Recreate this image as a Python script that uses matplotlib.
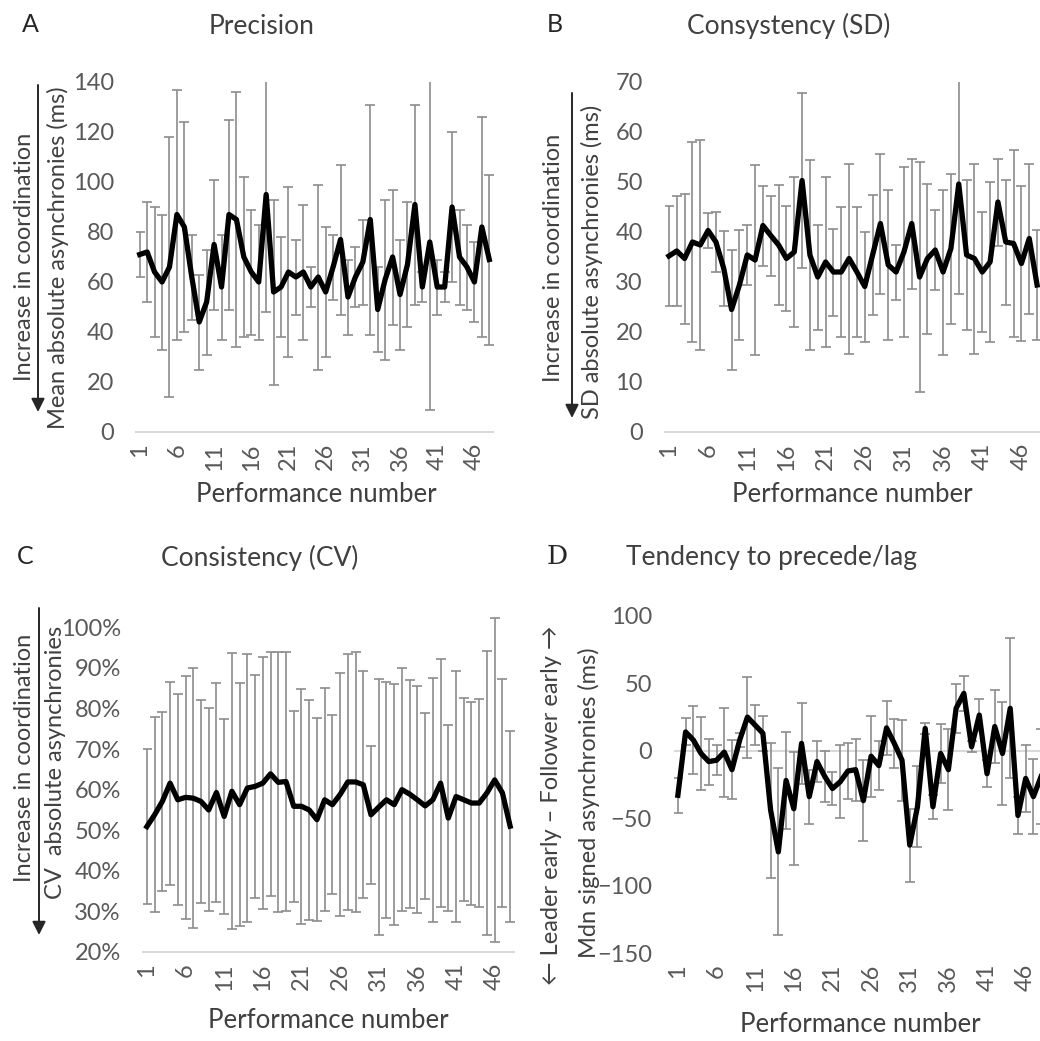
import numpy as np
import matplotlib
matplotlib.use('Agg')
import matplotlib.pyplot as plt
from matplotlib.ticker import PercentFormatter

plt.rcParams['font.family'] = ['Lato', 'DejaVu Sans']

W, H = 1040, 1041

performance = np.arange(1, 49)
tick_pos = [1, 6, 11, 16, 21, 26, 31, 36, 41, 46]

# A: mean absolute asynchronies (ms)
precision_mean = [71, 72, 64, 60, 66, 87, 82, 62, 44, 52, 75, 58, 87, 85, 70, 64,
                  60, 95, 56, 58, 64, 62, 64, 58, 62, 56, 66, 77, 54, 62, 68, 85,
                  49, 61, 70, 55, 67, 91, 58, 76, 58, 58, 90, 70, 66, 60, 82, 69]
precision_sd = [9, 20, 26, 27, 52, 50, 42, 17, 19, 21, 26, 21, 38, 51, 32, 25,
                23, 47, 37, 20, 34, 15, 27, 8, 37, 26, 13, 30, 15, 12, 17, 46,
                17, 32, 27, 22, 25, 40, 6, 67, 11, 6, 30, 19, 17, 16, 44, 34]

# B: SD of absolute asynchronies (ms)
sd_mean = [35.2, 36.2, 34.7, 38, 37.4, 40.3, 38, 32.7, 24.5, 29.4, 35.4, 34.4,
           41.3, 39.3, 37.4, 34.7, 36, 50.3, 35.4, 31, 34, 32, 32, 34.7,
           32, 29.1, 35.4, 41.7, 33.4, 32, 36, 41.7, 31, 34.7, 36.4, 32,
           36.7, 49.6, 35.4, 34.7, 32, 34, 46, 38, 37.7, 33.7, 38.7, 29.4]
sd_sd = [10, 11, 13, 20, 21, 3.5, 6, 7.5, 12, 11, 6, 19,
         8, 8, 12, 10.5, 15, 17.5, 19, 10.5, 17, 8.7, 13, 19,
         13, 11, 12, 14, 15, 5.5, 17, 13, 23, 15, 8, 16.5,
         15, 22, 15, 19, 12, 16, 8.7, 12.5, 18.7, 15.5, 15, 11]

# C: CV of absolute asynchronies
cv_mean = [0.509, 0.538, 0.571, 0.616, 0.575, 0.581, 0.579, 0.571, 0.550, 0.593,
           0.534, 0.596, 0.563, 0.604, 0.608, 0.616, 0.639, 0.618, 0.620, 0.559,
           0.559, 0.550, 0.526, 0.575, 0.563, 0.588, 0.619, 0.619, 0.612, 0.538,
           0.557, 0.575, 0.563, 0.600, 0.589, 0.575, 0.560, 0.575, 0.616, 0.530,
           0.583, 0.575, 0.567, 0.567, 0.592, 0.624, 0.592, 0.510]
cv_sd = [0.19, 0.24, 0.22, 0.25, 0.26, 0.30, 0.32, 0.25, 0.25, 0.27,
         0.24, 0.34, 0.30, 0.33, 0.275, 0.31, 0.30, 0.32, 0.32, 0.235,
         0.29, 0.27, 0.25, 0.275, 0.22, 0.30, 0.315, 0.32, 0.28, 0.17,
         0.315, 0.29, 0.297, 0.30, 0.28, 0.28, 0.23, 0.30, 0.305, 0.23,
         0.31, 0.25, 0.25, 0.257, 0.35, 0.40, 0.28, 0.235]

# D: median signed asynchronies (ms)
signed_mean = [-33, 14, 8, -2, -8, -7, -1, -14, 8, 25, 19, 13, -44, -75, -22, -43,
               5.5, -34, -8, -19, -28, -23, -15, -14, -37, -4, -11, 17, 5.5, -7, -70, -41.5,
               16.6, -41.5, -2, -14, 31.5, 42.6, 3, 26.5, -17, 18, -2, 31.5, -48, -20.5, -34, -19]
signed_sd = [13, 10, 25, 27, 17, 11, 33, 22, 5, 30, 15, 13, 50, 62, 36, 42,
             30, 20, 15, 19, 12, 27, 21, 23, 30, 30, 18, 20, 18, 30, 27, 30,
             4, 9, 22, 30, 18, 13, 4, 12, 10, 27, 38, 52, 14, 25, 28, 35]

TXT = '#404040'
TICK = '#595959'

fig = plt.figure(figsize=(W / 100, H / 100), dpi=100)


def add_panel(x0, y0, x1, y1):
    return fig.add_axes([x0 / W, 1 - y1 / H, (x1 - x0) / W, (y1 - y0) / H])


def draw(ax, mean, sd, ylim, yticks):
    ax.errorbar(performance, mean, yerr=sd, fmt='none', ecolor='#8c8c8c',
                elinewidth=1.2, capsize=3.6, capthick=1.2)
    ax.plot(performance, mean, color='black', lw=3.8, solid_joinstyle='round')
    ax.set_xlim(0.5, 48.5)
    ax.set_ylim(*ylim)
    ax.set_yticks(yticks)
    ax.set_xticks(tick_pos)
    ax.set_xticklabels(tick_pos, rotation=90)
    for s in ['top', 'right', 'left']:
        ax.spines[s].set_visible(False)
    ax.spines['bottom'].set_color('#d9d9d9')
    ax.spines['bottom'].set_linewidth(1.5)
    ax.tick_params(length=0, labelsize=17, labelcolor=TICK)
    ax.tick_params(axis='y', pad=16)
    ax.tick_params(axis='x', pad=8)


def ftext(x, y, s, **kw):
    fig.text(x / W, 1 - y / H, s, ha='center', va='center', **kw)


def arrow(ax, x, y0, y1):
    ax.annotate('', xy=(x, H - y1), xytext=(x, H - y0), xycoords='figure pixels',
                textcoords='figure pixels', annotation_clip=False,
                arrowprops=dict(arrowstyle='-|>', color='#262626', lw=1.4,
                                mutation_scale=20, shrinkA=0, shrinkB=0))


# A
axA = add_panel(136, 82, 493, 432)
draw(axA, precision_mean, precision_sd, (0, 140), range(0, 141, 20))
# B
axB = add_panel(665, 82, 1041, 432)
draw(axB, sd_mean, sd_sd, (0, 70), range(0, 71, 10))
# C
axC = add_panel(143, 607, 514, 952)
draw(axC, cv_mean, cv_sd, (0.2, 1.05), np.arange(0.2, 1.01, 0.1))
axC.yaxis.set_major_formatter(PercentFormatter(1.0, decimals=0))
# D
axD = add_panel(674, 616, 1045, 953)
draw(axD, signed_mean, signed_sd, (-150, 100), range(-150, 101, 50))
axD.spines['bottom'].set_visible(False)
axD.axhline(0, color='#d9d9d9', lw=1.5, zorder=0)

# panel letters and titles
ftext(30, 24, 'A', fontsize=18, color='#262626')
ftext(555, 24, 'B', fontsize=18, color='#262626')
ftext(25, 557, 'C', fontsize=18, color='#262626')
ftext(557, 556, 'D', fontsize=19, color='#262626', family='DejaVu Serif')
ftext(262, 26, 'Precision', fontsize=19, color=TXT)
ftext(789, 26, 'Consystency (SD)', fontsize=19, color=TXT)
ftext(260, 558, 'Consistency (CV)', fontsize=19, color=TXT)
ftext(771, 558, 'Tendency to precede/lag', fontsize=19, color=TXT)

# x labels
ftext(316, 495, 'Performance number', fontsize=18.5, color=TXT)
ftext(852, 495, 'Performance number', fontsize=18.5, color=TXT)
ftext(328, 1020, 'Performance number', fontsize=18.5, color=TXT)
ftext(860, 1025, 'Performance number', fontsize=18.5, color=TXT)

# y labels
ftext(25, 257, 'Increase in coordination', fontsize=17, color=TXT, rotation=90)
ftext(58, 258, 'Mean absolute asynchronies (ms)', fontsize=17, color=TXT, rotation=90)
ftext(553, 258, 'Increase in coordination', fontsize=17, color=TXT, rotation=90)
ftext(592, 262, 'SD absolute asynchronies (ms)', fontsize=17, color=TXT, rotation=90)
ftext(25, 758, 'Increase in coordination', fontsize=17, color=TXT, rotation=90)
ftext(56, 762, 'CV  absolute asynchronies', fontsize=17, color=TXT, rotation=90)
ftext(552, 805, '\u2190 Leader early \u2013 Follower early \u2192', fontsize=17,
      color=TXT, rotation=90)
ftext(589, 803, 'Mdn signed asynchronies (ms)', fontsize=17, color=TXT, rotation=90)

arrow(axA, 38, 85, 412)
arrow(axB, 572, 93, 418)
arrow(axC, 39, 608, 935)

fig.savefig('out.png', dpi=100)
